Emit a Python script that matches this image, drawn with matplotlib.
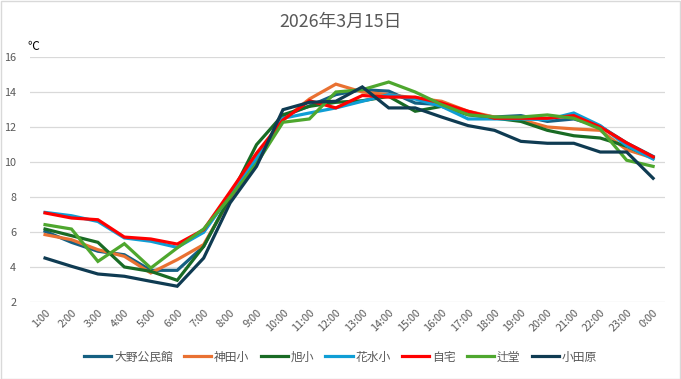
import matplotlib
matplotlib.use("Agg")
import matplotlib.pyplot as plt
from matplotlib.patches import Rectangle

plt.rcParams['font.family'] = ['Noto Sans CJK JP', 'DejaVu Sans']

hours = ["1:00", "2:00", "3:00", "4:00", "5:00", "6:00", "7:00", "8:00", "9:00", "10:00",
         "11:00", "12:00", "13:00", "14:00", "15:00", "16:00", "17:00", "18:00", "19:00",
         "20:00", "21:00", "22:00", "23:00", "0:00"]

ono = [6.04, 5.41, 4.9, 4.7, 3.81, 3.81, 5.18, 8.0, 10.1, 12.6, 13.2, 13.85,
       14.13, 14.05, 13.37, 13.28, 12.8, 12.57, 12.65, 12.32, 12.46, 12.04, 11.09, 10.32]
kanda = [5.85, 5.56, 4.99, 4.61, 3.66, 4.42, 5.28, 7.9, 10.3, 12.4, 13.6, 14.45,
         14.0, 13.85, 13.66, 13.47, 12.9, 12.57, 12.42, 12.0, 11.89, 11.81, 10.7, 10.23]
asahi = [6.17, 5.79, 5.41, 4.0, 3.75, 3.24, 5.18, 8.0, 10.99, 12.7, 13.18, 13.41,
         13.5, 13.75, 12.9, 13.18, 12.7, 12.51, 12.32, 11.81, 11.5, 11.37, 10.9, 10.23]
hanamizu = [7.12, 6.93, 6.6, 5.66, 5.47, 5.12, 5.98, 8.1, 10.2, 12.5, 12.8, 13.09,
            13.47, 13.85, 13.6, 13.18, 12.46, 12.46, 12.46, 12.42, 12.8, 12.08, 10.93, 10.17]
jitaku = [7.09, 6.8, 6.7, 5.71, 5.6, 5.31, 6.13, 8.3, 10.5, 12.4, 13.5, 13.09,
          13.8, 13.71, 13.71, 13.37, 12.9, 12.5, 12.5, 12.5, 12.65, 12.0, 11.09, 10.29]
tsujido = [6.42, 6.17, 4.32, 5.33, 3.94, 5.09, 6.17, 8.0, 9.9, 12.27, 12.46, 14.0,
           14.13, 14.57, 14.0, 13.28, 12.7, 12.57, 12.57, 12.69, 12.5, 11.89, 10.1, 9.75]
odawara = [4.51, 4.04, 3.6, 3.47, 3.18, 2.9, 4.51, 7.66, 9.75, 12.99, 13.41, 13.47,
           14.29, 13.09, 13.09, 12.57, 12.08, 11.81, 11.18, 11.07, 11.07, 10.57, 10.57, 9.07]

names = ["大野公民館", "神田小", "旭小", "花水小", "自宅", "辻堂", "小田原"]
series = [ono, kanda, asahi, hanamizu, jitaku, tsujido, odawara]
colors = ["#156082", "#E97132", "#196B24", "#0F9ED5", "#FF0000", "#4EA72E", "#0F3B52"]

fig = plt.figure(figsize=(6.81, 3.79), dpi=100)
ax = fig.add_axes([0.044, 0.2032, 0.9325, 0.6464])

x = range(len(hours))
for name, vals, c in zip(names, series, colors):
    ax.plot(x, vals, color=c, lw=2.3, label=name, solid_joinstyle='miter')

ax.set_ylim(2, 16)
ax.set_yticks(range(2, 17, 2))
ax.set_xlim(-0.57, 23.45)
ax.set_xticks(list(x))
ax.set_xticklabels(hours, rotation=45, ha='right', rotation_mode='anchor')
ax.grid(axis='y', color='#D9D9D9', lw=0.9)
ax.set_axisbelow(True)
for s in ax.spines.values():
    s.set_visible(False)
ax.tick_params(length=0, labelsize=7.8, labelcolor='#595959')
ax.tick_params(axis='y', pad=10)
ax.tick_params(axis='x', pad=4)

fig.text(0.5, 0.942, "2026年3月15日", ha='center', va='center', fontsize=12.8, color='#595959')
fig.text(0.041, 0.878, "℃", ha='left', va='center', fontsize=8.5, color='black')

fig.legend(loc='center', bbox_to_anchor=(0.5, 0.058), ncol=7, frameon=False,
           fontsize=8.5, handlelength=2.3, handletextpad=0.25, columnspacing=0.95,
           labelcolor='#595959')

fig.patches.append(Rectangle((0.001, 0.001), 0.997, 0.997, transform=fig.transFigure,
                             fill=False, edgecolor='#D9D9D9', lw=1))

fig.savefig("out.png", dpi=100)
